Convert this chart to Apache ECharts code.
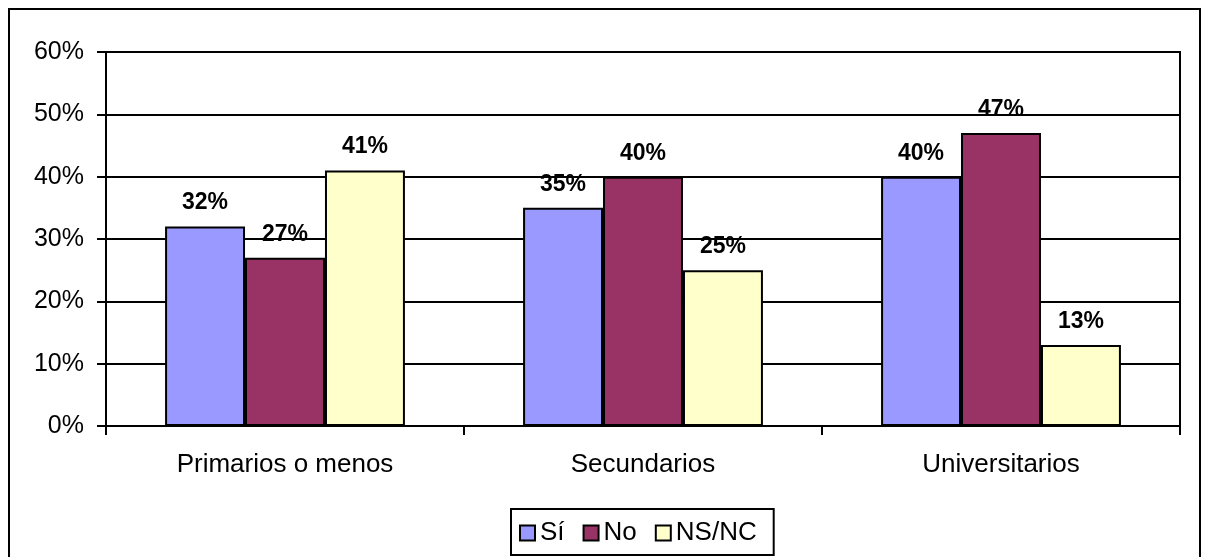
<!DOCTYPE html>
<html>
<head>
<meta charset="utf-8">
<script src="https://cdn.jsdelivr.net/npm/echarts@6/dist/echarts.min.js"></script>
<style>html,body{margin:0;padding:0;background:#fff}#c{width:1210px;height:557px}</style>
</head>
<body>
<div id="c"></div>
<script>
const categories = ['Primarios o menos', 'Secundarios', 'Universitarios'];
const seriesNames = ['Sí', 'No', 'NS/NC'];
const siValues = [32, 35, 40];
const noValues = [27, 40, 47];
const nsncValues = [41, 25, 13];
const yTicks = [0, 10, 20, 30, 40, 50, 60];
const colors = ['#9999FF', '#993366', '#FFFFCC'];

const FONT = 'Liberation Sans, Arial, sans-serif';
const chart = echarts.init(document.getElementById('c'), null, {renderer: 'canvas'});
function mk(name, data, color) {
  return {
    name: name, type: 'bar', data: data,
    barGap: '0%', barCategoryGap: '33%',
    itemStyle: {color: color, borderColor: '#000', borderWidth: 2},
    label: {show: true, position: 'top', distance: 12, formatter: '{c}%',
      color: '#000', fontWeight: 'bold', fontSize: 23, fontFamily: FONT},
    animation: false
  };
}
chart.setOption({
  animation: false,
  textStyle: {fontFamily: FONT},
  graphic: [{type: 'rect', shape: {x: 9, y: 9, width: 1191, height: 560},
    style: {fill: 'none', stroke: '#000', lineWidth: 2}, z: -1}],
  grid: {left: 106, right: 30, top: 52, bottom: 131, show: true, borderColor: '#000', borderWidth: 2},
  legend: {
    data: seriesNames, left: 511, top: 509, orient: 'horizontal',
    icon: 'rect', itemWidth: 15, itemHeight: 15, itemGap: 18,
    padding: [11, 17, 9, 8],
    borderColor: '#000', borderWidth: 2,
    textStyle: {fontSize: 26, color: '#000', fontFamily: FONT},
    itemStyle: {borderColor: '#000', borderWidth: 2}
  },
  xAxis: {
    type: 'category', data: categories,
    axisLine: {lineStyle: {color: '#000', width: 2}},
    axisTick: {show: true, length: 9, lineStyle: {color: '#000', width: 2}},
    axisLabel: {color: '#000', fontSize: 26, margin: 26, fontFamily: FONT}
  },
  yAxis: {
    type: 'value', min: yTicks[0], max: yTicks[yTicks.length - 1], interval: 10,
    axisLine: {show: true, lineStyle: {color: '#000', width: 2}},
    axisTick: {show: true, length: 9, lineStyle: {color: '#000', width: 2}},
    axisLabel: {color: '#000', fontSize: 25, margin: 22, formatter: '{value}%', fontFamily: FONT},
    splitLine: {show: true, lineStyle: {color: '#000', width: 2}}
  },
  series: [mk(seriesNames[0], siValues, colors[0]), mk(seriesNames[1], noValues, colors[1]), mk(seriesNames[2], nsncValues, colors[2])]
});
</script>
</body>
</html>
